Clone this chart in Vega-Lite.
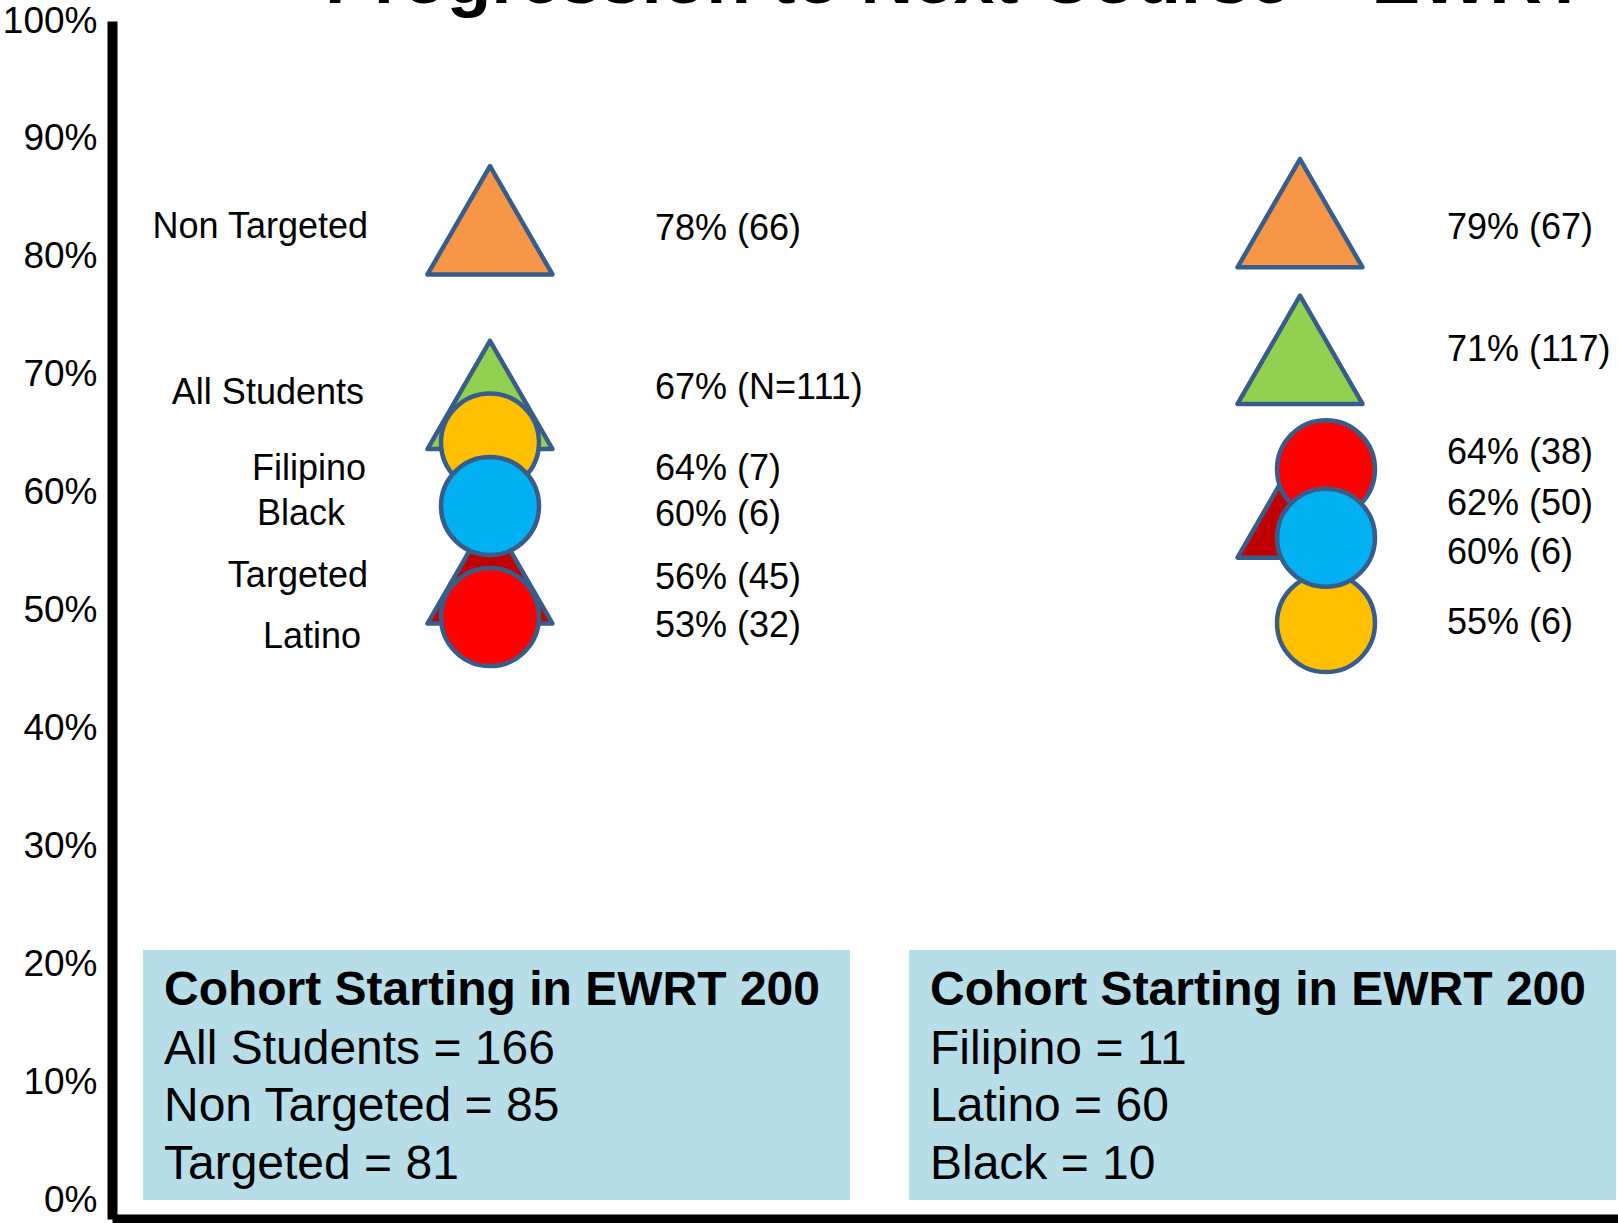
{
  "$schema": "https://vega.github.io/schema/vega-lite/v6.json",
  "width": 1506,
  "height": 1198,
  "autosize": "none",
  "padding": {"left": 112, "top": 21, "right": 0, "bottom": 4},
  "background": "white",
  "config": {
    "view": {"stroke": null},
    "font": "Liberation Sans",
    "text": {"font": "Liberation Sans", "color": "black"}
  },
  "datasets": {
    "title": [
      {"panel": "left", "title": "Progression to Next Course – EWRT"}
    ],
    "cohorts": [
      {"panel": "left", "heading": "Cohort Starting in EWRT 200", "lines": ["All Students = 166", "Non Targeted = 85", "Targeted = 81"]},
      {"panel": "right", "heading": "Cohort Starting in EWRT 200", "lines": ["Filipino = 11", "Latino = 60", "Black = 10"]}
    ],
    "markers": [
      {"panel": "left", "group": "Non Targeted", "kind": "status", "rate": 0.78, "label": "78% (66)"},
      {"panel": "left", "group": "All Students", "kind": "status", "rate": 0.67, "label": "67% (N=111)"},
      {"panel": "left", "group": "Filipino", "kind": "ethnicity", "rate": 0.64, "label": "64% (7)"},
      {"panel": "left", "group": "Targeted", "kind": "status", "rate": 0.56, "label": "56% (45)"},
      {"panel": "left", "group": "Black", "kind": "ethnicity", "rate": 0.60, "label": "60% (6)"},
      {"panel": "left", "group": "Latino", "kind": "ethnicity", "rate": 0.53, "label": "53% (32)"},
      {"panel": "right", "group": "Non Targeted", "kind": "status", "rate": 0.79, "label": "79% (67)"},
      {"panel": "right", "group": "All Students", "kind": "status", "rate": 0.71, "label": "71% (117)"},
      {"panel": "right", "group": "Targeted", "kind": "status", "rate": 0.62, "label": "62% (50)"},
      {"panel": "right", "group": "Latino", "kind": "ethnicity", "rate": 0.64, "label": "64% (38)"},
      {"panel": "right", "group": "Filipino", "kind": "ethnicity", "rate": 0.55, "label": "55% (6)"},
      {"panel": "right", "group": "Black", "kind": "ethnicity", "rate": 0.60, "label": "60% (6)"}
    ]
  },
  "layer": [
    {
      "data": {"name": "cohorts"},
      "encoding": {
        "x": {
          "field": "panel",
          "type": "nominal",
          "scale": {"type": "band", "domain": ["left", "right"], "paddingInner": 0.077, "paddingOuter": 0.0215, "align": 0.94},
          "axis": {"labels": false, "ticks": false, "title": null, "grid": false, "domain": true, "domainColor": "black", "domainWidth": 10}
        }
      },
      "layer": [
        {
          "mark": {"type": "rect", "color": "#B7DDE8"},
          "encoding": {
            "y": {
              "datum": 0,
              "type": "quantitative",
              "scale": {"domain": [-0.0161, 1], "nice": false, "zero": false},
              "axis": {
                "values": [0, 0.1, 0.2, 0.3, 0.4, 0.5, 0.6, 0.7, 0.8, 0.9, 1],
                "format": ".0%",
                "title": null,
                "grid": false,
                "ticks": false,
                "labelFont": "Liberation Sans",
                "labelFontSize": 37,
                "labelColor": "black",
                "labelPadding": 15,
                "labelFlush": false,
                "labelOverlap": false,
                "labelBound": false,
                "domain": true,
                "domainColor": "black",
                "domainWidth": 10
              }
            },
            "y2": {"datum": 0.212}
          }
        },
        {
          "mark": {"type": "text", "align": "left", "baseline": "alphabetic", "dx": 21, "fontSize": 48, "fontWeight": "bold", "color": "black"},
          "encoding": {
            "x": {"field": "panel", "type": "nominal", "bandPosition": 0},
            "y": {"datum": 0.1654, "type": "quantitative"},
            "text": {"field": "heading"}
          }
        },
        {
          "mark": {"type": "text", "align": "left", "baseline": "alphabetic", "dx": 21, "fontSize": 48, "lineHeight": 57.5, "color": "black"},
          "encoding": {
            "x": {"field": "panel", "type": "nominal", "bandPosition": 0},
            "y": {"datum": 0.1154, "type": "quantitative"},
            "text": {"field": "lines"}
          }
        },
        {
          "data": {"name": "title"},
          "mark": {"type": "text", "align": "left", "baseline": "alphabetic", "dx": 182, "fontSize": 73, "fontWeight": "bold", "color": "black", "clip": false},
          "encoding": {
            "x": {"field": "panel", "type": "nominal", "bandPosition": 0},
            "y": {"datum": 1.0155, "type": "quantitative"},
            "text": {"field": "title"}
          }
        }
      ]
    },
    {
      "data": {"name": "markers"},
      "transform": [{"filter": "datum.panel === 'left'"}],
      "encoding": {
        "x": {
          "field": "panel",
          "type": "nominal",
          "scale": {"type": "point", "domain": ["left", "right"], "padding": 0.4296, "align": 0.5431},
          "axis": null
        },
        "y": {
          "field": "rate",
          "type": "quantitative",
          "scale": {"domain": [0.1507, 0.9056], "nice": false, "zero": false},
          "axis": null
        }
      },
      "layer": [
        {
          "mark": {"type": "point", "filled": true, "opacity": 1, "stroke": "#385D8A", "strokeWidth": 4.5, "strokeJoin": "round"},
          "encoding": {
            "color": {
              "field": "group",
              "type": "nominal",
              "scale": {
                "domain": ["Non Targeted", "All Students", "Targeted", "Filipino", "Black", "Latino"],
                "range": ["#F79646", "#92D050", "#C00000", "#FFC000", "#00B0F0", "#FF0000"]
              },
              "legend": null
            },
            "shape": {
              "field": "kind",
              "type": "nominal",
              "scale": {"domain": ["status", "ethnicity"], "range": ["triangle-up", "circle"]},
              "legend": null
            },
            "size": {
              "field": "kind",
              "type": "nominal",
              "scale": {"type": "ordinal", "domain": ["status", "ethnicity"], "range": [15625, 9600]},
              "legend": null
            }
          }
        },
        {
          "transform": [{"filter": "datum.group === 'Non Targeted' || datum.group === 'Targeted'"}],
          "mark": {"type": "text", "align": "right", "baseline": "middle", "dx": -122, "dy": 7, "fontSize": 36, "color": "black"},
          "encoding": {"text": {"field": "group"}}
        },
        {
          "transform": [{"filter": "datum.group === 'All Students'"}],
          "mark": {"type": "text", "align": "right", "baseline": "middle", "dx": -126, "dy": -2, "fontSize": 36, "color": "black"},
          "encoding": {"text": {"field": "group"}}
        },
        {
          "transform": [{"filter": "datum.group === 'Filipino'"}],
          "mark": {"type": "text", "align": "right", "baseline": "middle", "dx": -124, "dy": 27, "fontSize": 36, "color": "black"},
          "encoding": {"text": {"field": "group"}}
        },
        {
          "transform": [{"filter": "datum.group === 'Black'"}],
          "mark": {"type": "text", "align": "right", "baseline": "middle", "dx": -145, "dy": 8, "fontSize": 36, "color": "black"},
          "encoding": {"text": {"field": "group"}}
        },
        {
          "transform": [{"filter": "datum.group === 'Latino'"}],
          "mark": {"type": "text", "align": "right", "baseline": "middle", "dx": -129, "dy": 20, "fontSize": 36, "color": "black"},
          "encoding": {"text": {"field": "group"}}
        },
        {
          "transform": [{"filter": "datum.group === 'Non Targeted' || datum.group === 'Black' || datum.group === 'Targeted' || datum.group === 'Latino'"}],
          "mark": {"type": "text", "align": "left", "baseline": "middle", "dx": 165, "dy": 9, "fontSize": 36, "color": "black"},
          "encoding": {"text": {"field": "label"}}
        },
        {
          "transform": [{"filter": "datum.group === 'All Students'"}],
          "mark": {"type": "text", "align": "left", "baseline": "middle", "dx": 165, "dy": -7, "fontSize": 36, "color": "black"},
          "encoding": {"text": {"field": "label"}}
        },
        {
          "transform": [{"filter": "datum.group === 'Filipino'"}],
          "mark": {"type": "text", "align": "left", "baseline": "middle", "dx": 165, "dy": 27, "fontSize": 36, "color": "black"},
          "encoding": {"text": {"field": "label"}}
        }
      ]
    },
    {
      "data": {"name": "markers"},
      "transform": [{"filter": "datum.panel === 'right'"}],
      "encoding": {
        "x": {
          "field": "panel",
          "type": "nominal",
          "scale": {"type": "point", "domain": ["left", "right"], "padding": 0.4296, "align": 0.5431},
          "axis": null
        },
        "y": {
          "field": "rate",
          "type": "quantitative",
          "scale": {"domain": [0.2011, 0.9025], "nice": false, "zero": false},
          "axis": null
        },
        "color": {
          "field": "group",
          "type": "nominal",
          "scale": {
            "domain": ["Non Targeted", "All Students", "Targeted", "Filipino", "Black", "Latino"],
            "range": ["#F79646", "#92D050", "#C00000", "#FFC000", "#00B0F0", "#FF0000"]
          },
          "legend": null
        }
      },
      "layer": [
        {
          "transform": [{"filter": "datum.kind === 'status'"}],
          "mark": {"type": "point", "shape": "triangle-up", "size": 15625, "filled": true, "opacity": 1, "stroke": "#385D8A", "strokeWidth": 4.5, "strokeJoin": "round"}
        },
        {
          "transform": [{"filter": "datum.kind === 'ethnicity'"}],
          "mark": {"type": "point", "shape": "circle", "size": 9600, "xOffset": 26, "filled": true, "opacity": 1, "stroke": "#385D8A", "strokeWidth": 4.5}
        },
        {
          "transform": [{"filter": "datum.group === 'All Students' || datum.group === 'Targeted' || datum.group === 'Filipino'"}],
          "mark": {"type": "text", "align": "left", "baseline": "middle", "dx": 147, "dy": 0, "fontSize": 36, "color": "black"},
          "encoding": {"text": {"field": "label"}, "color": {"value": "black"}}
        },
        {
          "transform": [{"filter": "datum.group === 'Non Targeted' || datum.group === 'Black'"}],
          "mark": {"type": "text", "align": "left", "baseline": "middle", "dx": 147, "dy": 15, "fontSize": 36, "color": "black"},
          "encoding": {"text": {"field": "label"}, "color": {"value": "black"}}
        },
        {
          "transform": [{"filter": "datum.group === 'Latino'"}],
          "mark": {"type": "text", "align": "left", "baseline": "middle", "dx": 147, "dy": -16, "fontSize": 36, "color": "black"},
          "encoding": {"text": {"field": "label"}, "color": {"value": "black"}}
        }
      ]
    }
  ],
  "resolve": {"scale": {"x": "independent", "y": "independent", "color": "independent"}, "axis": {"x": "independent", "y": "independent"}}
}
